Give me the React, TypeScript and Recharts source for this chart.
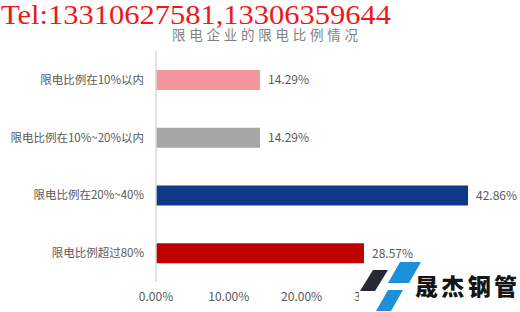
import React from 'react';
import { BarChart, Bar, XAxis, YAxis, Cell, LabelList } from 'recharts';

const categories = [
  '限电比例在10%以内',
  '限电比例在10%~20%以内',
  '限电比例在20%~40%',
  '限电比例超过80%',
];
const shares = [14.29, 14.29, 42.86, 28.57];
const barColors = ['#F1959F', '#A6A6A6', '#0F3A88', '#C00000'];
// the 40% / 50% ticks sit under the logo stamp, so only these are labelled
const xTicks = [0, 10, 20, 30];

const data = categories.map((name, i) => ({ name, value: shares[i] }));

const W = 520;
const H = 312;
const gray = '#595959';
const cjk = '"Noto Sans CJK SC", "Noto Sans", sans-serif';

export default function App() {
  return (
    <div style={{ position: 'absolute', left: 0, top: 0, width: W, height: H, background: '#fff' }}>
      <BarChart
        width={W}
        height={H}
        data={data}
        layout="vertical"
        margin={{ top: 51, right: 0, bottom: 0, left: 0 }}
        barCategoryGap={0}
      >
        <XAxis
          type="number"
          domain={[0, 50]}
          ticks={xTicks}
          tickFormatter={(v: number) => `${v.toFixed(2)}%`}
          axisLine={false}
          tickLine={false}
          tickMargin={4}
          height={30}
          interval={0}
          tick={{ fontSize: 12, fill: gray, fontFamily: cjk }}
        />
        <YAxis
          type="category"
          dataKey="name"
          width={156}
          axisLine={{ stroke: '#D9D9D9', strokeWidth: 1.5 }}
          tickLine={false}
          tickMargin={6}
          tick={{ fontSize: 11.5, fill: gray, fontFamily: cjk }}
        />
        <Bar dataKey="value" barSize={20} isAnimationActive={false}>
          {data.map((d, i) => (
            <Cell key={d.name} fill={barColors[i]} />
          ))}
          <LabelList
            dataKey="value"
            position="right"
            offset={8}
            formatter={(v: number) => `${v.toFixed(2)}%`}
            style={{ fontSize: 12, fill: gray, fontFamily: cjk }}
          />
        </Bar>
      </BarChart>

      {/* title, contact line and logo stamp drawn on top of the chart */}
      <svg width={W} height={H} style={{ position: 'absolute', left: 0, top: 0, pointerEvents: 'none' }}>
        <text
          x={172}
          y={39.5}
          fontSize={13.5}
          fill="#7F7F7F"
          fontFamily={cjk}
          textLength={186}
          lengthAdjust="spacing"
        >
          限电企业的限电比例情况
        </text>
        <text
          x={1}
          y={24}
          fontSize={28}
          fill="#F01818"
          fontFamily='"Liberation Serif", "DejaVu Serif", serif'
          textLength={390}
          lengthAdjust="spacingAndGlyphs"
        >
          Tel:13310627581,13306359644
        </text>
        <g>
          <rect x={359} y={265} width={161} height={47} fill="#fff" />
          <polygon points="373,270 388,270 375,291 360,291" fill="#262B33" />
          <polygon points="400,262 421,262 409,283 388,283" fill="#1E8FDB" />
          <polygon points="388,290 403,290 391,311 376,311" fill="#1E8FDB" />
          <text
            x={415}
            y={295}
            fontSize={23}
            fontWeight={900}
            fill="#151515"
            fontFamily={cjk}
            textLength={102}
            lengthAdjust="spacing"
          >
            晟杰钢管
          </text>
        </g>
      </svg>
    </div>
  );
}
